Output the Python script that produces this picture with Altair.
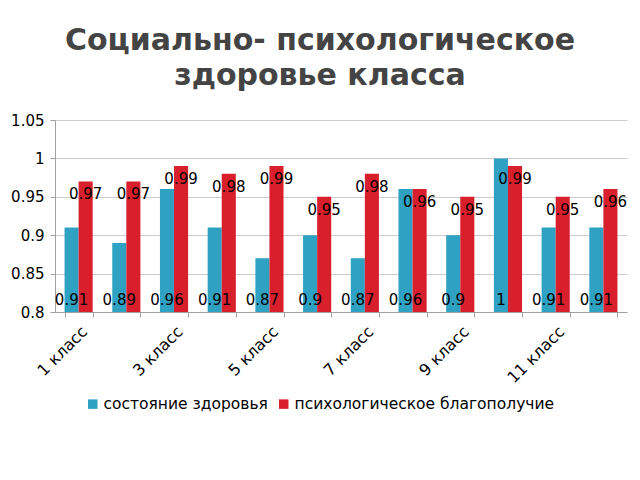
import altair as alt
import pandas as pd

classes = [f"{i} класс" for i in range(1, 13)]
series = ["состояние здоровья", "психологическое благополучие"]
health = [0.91, 0.89, 0.96, 0.91, 0.87, 0.9, 0.87, 0.96, 0.9, 1, 0.91, 0.91]
psych = [0.97, 0.97, 0.99, 0.98, 0.99, 0.95, 0.98, 0.96, 0.95, 0.99, 0.95, 0.96]
colors = ["#2FA2C3", "#D91F2C"]

rows = []
for c, h, p in zip(classes, health, psych):
    rows.append({"class": c, "series": series[0], "value": h})
    rows.append({"class": c, "series": series[1], "value": p})
df = pd.DataFrame(rows)

font = "DejaVu Sans"
yscale = alt.Scale(domain=[0.8, 1.05], zero=False, nice=False)
yaxis = alt.Axis(values=[0.8, 0.85, 0.9, 0.95, 1, 1.05], labelFontSize=15,
                 labelFont=font, labelColor="#000000", labelPadding=6,
                 labelExpr="format(datum.value, '.2~f')", labelOverlap=False,
                 labelFlush=False,
                 domainColor="#A0A0A0", tickColor="#A0A0A0", tickSize=5,
                 gridColor="#CCCCCC")

x = alt.X("class:N", sort=classes, title=None,
          scale=alt.Scale(paddingInner=0.41, paddingOuter=0.2),
          axis=alt.Axis(labelAngle=-45, labelFontSize=16, labelFont=font,
                        labelColor="#000000", labelPadding=6,
                        labelExpr="parseInt(split(datum.label, ' ')[0]) % 2 == 1 ? datum.label : ''",
                        domainColor="#A0A0A0", tickColor="#A0A0A0",
                        tickBand="extent", grid=False))
y = alt.Y("value:Q", title=None, scale=yscale, axis=yaxis)
xo = alt.XOffset("series:N", sort=series, scale=alt.Scale(domain=series))

base = alt.Chart(df).transform_calculate(base="0.8")

bars = base.mark_bar().encode(
    x=x, xOffset=xo, y=y, y2="base:Q",
    color=alt.Color("series:N", sort=series,
                    scale=alt.Scale(domain=series, range=colors),
                    legend=alt.Legend(title=None, orient="none", direction="horizontal",
                                      legendX=30, legendY=276, labelFontSize=15.5,
                                      labelFont=font, labelColor="#000000",
                                      labelLimit=400,
                                      symbolType="square", symbolSize=90,
                                      symbolStrokeWidth=0, columnPadding=8,
                                      labelOffset=3)),
)

health_labels = base.transform_filter(alt.datum.series == series[0]).mark_text(
    fontSize=15, font=font, color="#000000", baseline="middle", dy=-12
).encode(x=x, xOffset=xo, y=alt.Y("base:Q", title=None, scale=yscale, axis=yaxis),
         text=alt.Text("value:Q"))

psych_labels = base.transform_filter(alt.datum.series == series[1]).mark_text(
    fontSize=15, font=font, color="#000000", baseline="middle", dy=13
).encode(x=x, xOffset=xo, y=y, text=alt.Text("value:Q"))

chart = alt.layer(bars, health_labels, psych_labels).properties(
    width=572, height=192,
    autosize=alt.AutoSizeParams(type="none"),
    padding={"left": 47, "top": 112, "right": 5, "bottom": 160},
    title=alt.TitleParams(["Социально- психологическое", "здоровье класса"],
                          font=font, fontSize=30, fontWeight="bold",
                          color="#444444", anchor="middle", dx=-21,
                          offset=22, lineHeight=35),
).configure_view(stroke=None)

chart.save("out.html", embed_options={"renderer": "svg", "actions": False})
